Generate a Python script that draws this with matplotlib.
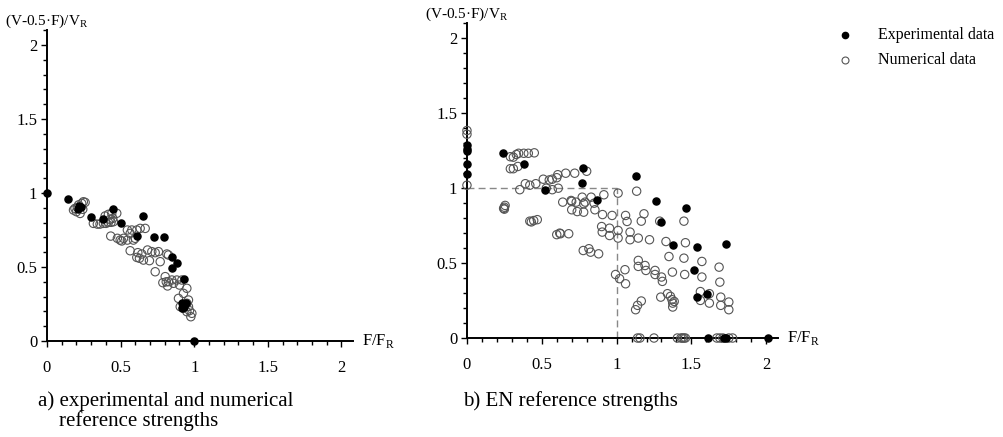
''' Interaction diagrams: experimental vs numerical data, two reference strengths
'''

import matplotlib
matplotlib.use('Agg')
import matplotlib.pyplot as plt  # noqa E402
from matplotlib.lines import Line2D  # noqa E402
from matplotlib.ticker import MultipleLocator  # noqa E402

plt.rcParams['font.family'] = ['Liberation Serif', 'DejaVu Serif']
plt.rcParams['mathtext.fontset'] = 'custom'
plt.rcParams['mathtext.rm'] = 'Liberation Serif'

# panel a) experimental and numerical reference strengths
left_exp_x = [0.0, 0.143, 0.22, 0.23, 0.213, 0.30, 0.383, 0.45, 0.50, 0.655,
              0.61, 0.73, 0.796, 0.848, 0.846, 0.882, 0.932, 0.916, 0.943,
              0.93, 0.92, 1.0]
left_exp_y = [1.0, 0.959, 0.912, 0.908, 0.89, 0.84, 0.824, 0.89, 0.795, 0.847,
              0.712, 0.703, 0.705, 0.57, 0.495, 0.529, 0.419, 0.255, 0.255,
              0.232, 0.22, 0.0]

left_num_x = [0.18, 0.20, 0.225, 0.236, 0.247, 0.259, 0.206, 0.243, 0.19, 0.215,
              0.315, 0.342, 0.36, 0.383, 0.401, 0.417, 0.435, 0.451,
              0.395, 0.417, 0.44, 0.474, 0.447, 0.428,
              0.433, 0.478, 0.497, 0.52, 0.508,
              0.546, 0.565, 0.576, 0.546, 0.587, 0.61, 0.633, 0.599, 0.667,
              0.565,
              0.61, 0.628, 0.655, 0.683, 0.696, 0.712, 0.735, 0.757, 0.769,
              0.814, 0.825, 0.617, 0.644,
              0.735,
              0.803, 0.787, 0.819, 0.848, 0.859, 0.882, 0.825, 0.9, 0.916,
              0.95, 0.81,
              0.893, 0.927, 0.95, 0.961, 0.968, 0.984, 0.977, 0.95, 0.927,
              0.905, 0.961]
left_num_y = [0.885, 0.874, 0.862, 0.93, 0.941, 0.937, 0.903, 0.89, 0.896, 0.92,
              0.795, 0.79, 0.79, 0.795, 0.795, 0.802, 0.802, 0.806,
              0.845, 0.856, 0.863, 0.863, 0.829, 0.822,
              0.709, 0.694, 0.682, 0.694, 0.676,
              0.75, 0.727, 0.75, 0.682, 0.682, 0.75, 0.761, 0.694, 0.761,
              0.61,
              0.565, 0.559, 0.547, 0.615, 0.543, 0.604, 0.597, 0.604, 0.536,
              0.588, 0.581, 0.597, 0.588,
              0.468,
              0.435, 0.394, 0.372, 0.412, 0.39, 0.412, 0.401, 0.378, 0.412,
              0.356, 0.40,
              0.288, 0.322, 0.255, 0.232, 0.205, 0.187, 0.164, 0.198, 0.221,
              0.232, 0.277]

# panel b) EN reference strengths
right_exp_x = [0.0, 0.0, 0.0, 0.0, 0.0,
               0.24, 0.38, 0.775, 0.77, 0.52, 0.87,
               1.13, 1.26, 1.295, 1.467, 1.375, 1.54, 1.73,
               1.518, 1.54, 1.603,
               1.61, 1.72, 1.73, 2.01]
right_exp_y = [1.29, 1.26, 1.25, 1.16, 1.095,
               1.233, 1.16, 1.133, 1.033, 0.985, 0.924,
               1.084, 0.913, 0.773, 0.871, 0.622, 0.609, 0.629,
               0.456, 0.273, 0.291,
               0.0, 0.0, 0.0, 0.0]

right_num_x = [0.0, 0.0, 0.0,
               0.29, 0.31, 0.33, 0.345, 0.38, 0.41, 0.45,
               0.29, 0.31, 0.34, 0.353,
               0.39, 0.42, 0.46,
               0.51, 0.55, 0.57, 0.60, 0.607,
               0.66, 0.72, 0.80, 0.57, 0.61, 0.53,
               0.25, 0.25, 0.255, 0.245,
               0.42, 0.446, 0.47, 0.43,
               0.60, 0.625, 0.68, 0.62,
               0.777, 0.815, 0.826, 0.88,
               0.64, 0.696, 0.73, 0.78, 0.70,
               0.70, 0.737, 0.78,
               0.77, 0.79, 0.83, 0.855, 0.85,
               0.915, 0.906, 0.97,
               0.9, 0.904, 0.953, 0.953,
               1.01, 1.01, 1.01,
               0.993, 1.02, 1.06, 1.056,
               1.06, 1.07, 1.09, 1.09,
               1.134, 1.145, 1.145, 1.145,
               1.127, 1.14, 1.165,
               1.165, 1.183, 1.19, 1.196,
               1.22, 1.257, 1.257, 1.288,
               1.30, 1.306, 1.295, 1.33, 1.35,
               1.34, 1.36, 1.37, 1.375, 1.375, 1.385,
               1.373, 1.45, 1.46, 1.45, 1.455,
               1.56, 1.56, 1.57, 1.57, 1.62, 1.62,
               1.685, 1.69, 1.696, 1.696, 1.75, 1.75,
               1.14, 1.156, 1.25, 1.406, 1.43, 1.44, 1.45, 1.46,
               1.67, 1.69, 1.71, 1.75, 1.775]
right_num_y = [1.385, 1.36, 1.02,
               1.21, 1.207, 1.225, 1.233, 1.233, 1.233, 1.236,
               1.13, 1.13, 1.145, 0.99,
               1.03, 1.02, 1.03,
               1.06, 1.055, 1.06, 1.07, 1.09,
               1.10, 1.10, 1.113, 0.99, 1.0, 1.0,
               0.873, 0.86, 0.885, 0.865,
               0.78, 0.784, 0.79, 0.775,
               0.69, 0.696, 0.696, 0.70,
               0.584, 0.596, 0.573, 0.562,
               0.907, 0.918, 0.907, 0.896, 0.912,
               0.856, 0.844, 0.84,
               0.94, 0.907, 0.94, 0.856, 0.90,
               0.956, 0.824, 0.818,
               0.744, 0.707, 0.733, 0.684,
               0.967, 0.718, 0.667,
               0.424, 0.396, 0.362, 0.456,
               0.818, 0.778, 0.707, 0.656,
               0.98, 0.667, 0.518, 0.478,
               0.189, 0.218, 0.247,
               0.78, 0.829, 0.484, 0.451,
               0.656, 0.451, 0.424, 0.78,
               0.407, 0.378, 0.273, 0.644, 0.544,
               0.296, 0.278, 0.256, 0.233, 0.207, 0.244,
               0.44, 0.78, 0.636, 0.533, 0.424,
               0.31, 0.251, 0.511, 0.407, 0.233, 0.296,
               0.473, 0.373, 0.273, 0.218, 0.24, 0.189,
               0.0, 0.0, 0.0, 0.0, 0.0, 0.0, 0.0, 0.0,
               0.0, 0.0, 0.0, 0.0, 0.0]

ylabel_txt = '(V-0.5·F)/V$_{\\rm R}$'
xlabel_txt = 'F/F$_{\\rm R}$'
captions = ['a) experimental and numerical\n    reference strengths',
            'b) EN reference strengths']
legend_labels = ['Experimental data', 'Numerical data']

NUM_EDGE = '#555555'


def setup_axes(ax):
    ax.set_xlim(0, 2.08)
    ax.set_ylim(0, 2.1)
    for side in ('top', 'right'):
        ax.spines[side].set_visible(False)
    for side in ('left', 'bottom'):
        ax.spines[side].set_linewidth(1.4)
    ax.xaxis.set_minor_locator(MultipleLocator(0.1))
    ax.yaxis.set_minor_locator(MultipleLocator(0.1))
    ax.set_xticks([0, 0.5, 1, 1.5, 2])
    ax.set_xticklabels(['0', '0.5', '1', '1.5', '2'])
    ax.set_yticks([0, 0.5, 1, 1.5, 2])
    ax.set_yticklabels(['0', '0.5', '1', '1.5', '2'])
    ax.tick_params(axis='both', which='major', length=4, width=1.0,
                   labelsize=12)
    ax.tick_params(axis='both', which='minor', length=3, width=1.0)
    ax.tick_params(axis='x', which='major', pad=10)
    ax.tick_params(axis='y', which='major', pad=3)
    ax.text(0, 1.0, ylabel_txt, transform=ax.transAxes, ha='center',
            va='bottom', fontsize=11)
    ax.annotate(xlabel_txt, xy=(1.0, 0), xycoords='axes fraction',
                xytext=(6, 0), textcoords='offset points',
                ha='left', va='center', fontsize=12)


def draw(ax, ex, ey, nx, ny):
    ax.scatter(nx, ny, s=36, facecolors='none', edgecolors=NUM_EDGE,
               linewidths=0.8, clip_on=False, zorder=3)
    ax.scatter(ex, ey, s=26, color='black', clip_on=False, zorder=4)


fig = plt.figure(figsize=(10.04, 4.37), dpi=100)
ax1 = fig.add_axes([0.0468, 0.2197, 0.305, 0.711])
ax2 = fig.add_axes([0.4651, 0.2265, 0.31, 0.72])

for ax in (ax1, ax2):
    setup_axes(ax)

draw(ax1, left_exp_x, left_exp_y, left_num_x, left_num_y)
draw(ax2, right_exp_x, right_exp_y, right_num_x, right_num_y)

# EN reference box
ax2.plot([0, 1], [1, 1], ls=(0, (5, 3)), color='#888888', lw=1.0, zorder=2)
ax2.plot([1, 1], [0, 1], ls=(0, (5, 3)), color='#888888', lw=1.0, zorder=2)

fig.text(38 / 1004, 1 - 391 / 437, captions[0], fontsize=15, ha='left',
         va='top', linespacing=1.0)
fig.text(463 / 1004, 1 - 391 / 437, captions[1], fontsize=15, ha='left',
         va='top')

# legend, placed by hand in figure pixels
leg_rows = [(35, dict(marker='o', color='black', markersize=4.5)),
            (60, dict(marker='o', markerfacecolor='none',
                      markeredgecolor=NUM_EDGE, markersize=5,
                      markeredgewidth=0.8))]
for (py, style), label in zip(leg_rows, legend_labels):
    fig.add_artist(Line2D([845 / 1004], [1 - py / 437], ls='none',
                          transform=fig.transFigure, **style))
    fig.text(878 / 1004, 1 - py / 437, label, fontsize=11.5, ha='left',
             va='center')

fig.savefig('out.png', dpi=100)
